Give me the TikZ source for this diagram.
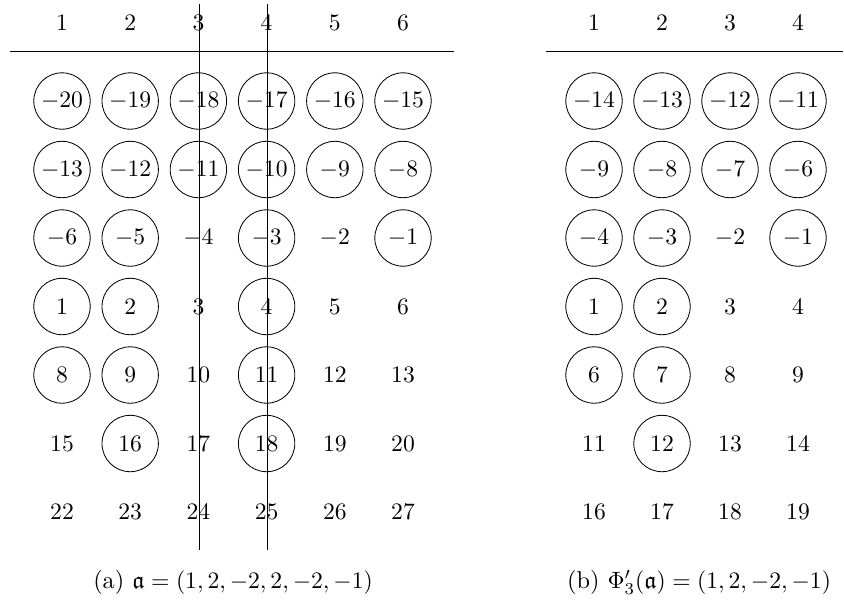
\documentclass[tikz,border=0pt]{standalone}
\usepackage{amssymb}
\begin{document}
\begin{tikzpicture}[x=0.4237pt,y=-0.4237pt,
  every node/.style={font=\fontsize{10.3pt}{12.4pt}\selectfont},
  c/.style={circle,draw,line width=0.35pt,minimum size=23.9pt,inner sep=0pt},
  p/.style={inner sep=0pt},
  captext/.style={inner sep=0pt},
  rule/.style={line width=0.35pt}]
\useasboundingbox (0,0) rectangle (844,602);
% left table
\foreach \c in {1,...,6}{
  \node[p] (LH-\c) at ({62+(\c-1)*68.2},23) {$\c$};
}
\foreach \r/\sty in {1/{c,c,c,c,c,c},2/{c,c,c,c,c,c},3/{c,c,p,c,p,c},4/{c,c,p,c,p,p},5/{c,c,p,c,p,p},6/{p,c,p,c,p,p},7/{p,p,p,p,p,p}}{
  \foreach \s [count=\c] in \sty {
    \pgfmathtruncatemacro\v{(\r-1)*7+\c-21}
    \node[\s] (L-\r-\c) at ({62+(\c-1)*68.2},{101+(\r-1)*68.5}) {$\v$};
  }
}
\coordinate (LA) at (10,51);
\coordinate (LB) at (454,51);
\draw[rule] (LA) -- (LB);
\coordinate (V1t) at (199,4);
\coordinate (V1b) at (199,550);
\coordinate (V2t) at (267,4);
\coordinate (V2b) at (267,550);
\draw[rule] (V1t) -- (V1b);
\draw[rule] (V2t) -- (V2b);
\node[captext] (capa) at (233,582) {(a)\ $\mathfrak{a}=(1,2,-2,2,-2,-1)$};
% right table
\foreach \c in {1,...,4}{
  \node[p] (RH-\c) at ({594+(\c-1)*68},23) {$\c$};
}
\foreach \r/\sty in {1/{c,c,c,c},2/{c,c,c,c},3/{c,c,p,c},4/{c,c,p,p},5/{c,c,p,p},6/{p,c,p,p},7/{p,p,p,p}}{
  \foreach \s [count=\c] in \sty {
    \pgfmathtruncatemacro\v{(\r-1)*5+\c-15}
    \node[\s] (R-\r-\c) at ({594+(\c-1)*68},{101+(\r-1)*68.5}) {$\v$};
  }
}
\coordinate (RA) at (546,51);
\coordinate (RB) at (843,51);
\draw[rule] (RA) -- (RB);
\node[captext] (capb) at (699,582) {(b)\ $\Phi'_3(\mathfrak{a})=(1,2,-2,-1)$};
\end{tikzpicture}
\end{document}
